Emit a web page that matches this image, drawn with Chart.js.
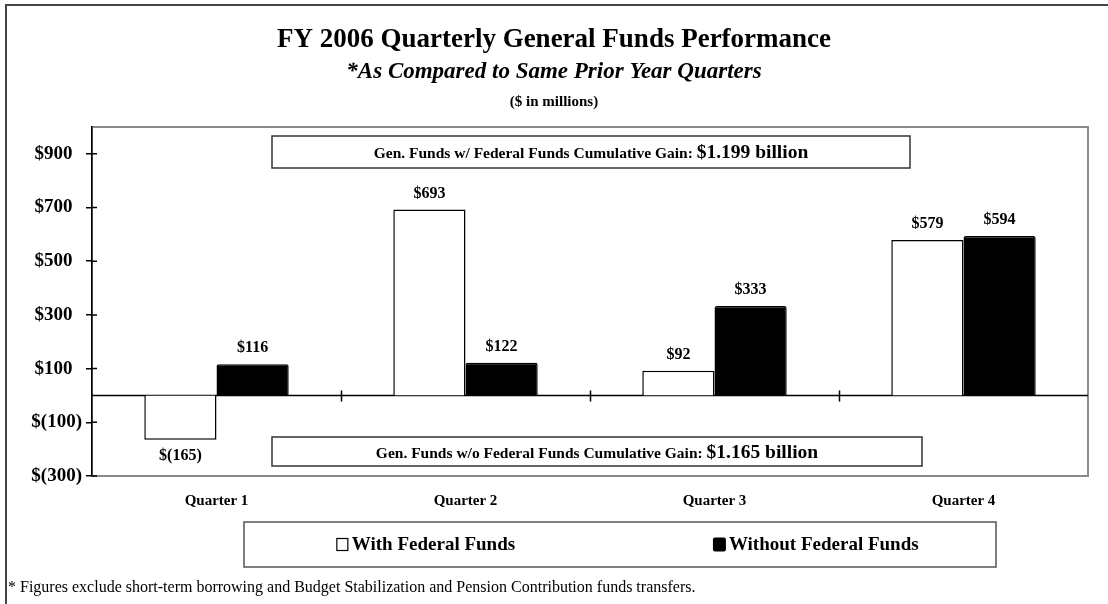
<!DOCTYPE html>
<html lang="en">
<head>
<meta charset="UTF-8">
<title>FY 2006 Quarterly General Funds Performance</title>
<script src="https://cdn.jsdelivr.net/npm/chart.js"></script>
<style>
html,body{margin:0;padding:0;background:#fff;}
.wrap{width:1108px;height:604px;position:relative;}
</style>
</head>
<body>
<div class="wrap"><canvas id="chart" width="1108" height="604"></canvas></div>

<script>
/* ---------- data ---------- */
const quarters=["Quarter 1","Quarter 2","Quarter 3","Quarter 4"];
const withFederal   =[-165,693,92,579];
const withoutFederal=[116,122,333,594];
const yTicks=[-300,-100,100,300,500,700,900];

const seriesNames=["With Federal Funds","Without Federal Funds"];

const SERIF="'Liberation Serif','Times New Roman',serif";

const titleLines=[
    {text:"FY 2006 Quarterly General Funds Performance",font:"bold 27px "+SERIF,y:47},
    {text:"*As Compared to Same Prior Year Quarters",font:"italic bold 23px "+SERIF,y:78},
    {text:"($ in millions)",font:"bold 15px "+SERIF,y:106}
];
const gainNotes=[
    {label:"Gen. Funds w/ Federal Funds Cumulative Gain: ",value:"$1.199 billion",box:[272,136,910,168]},
    {label:"Gen. Funds w/o Federal Funds Cumulative Gain: ",value:"$1.165 billion",box:[272,437,922,466]}
];
const footnote="* Figures exclude short-term borrowing and Budget Stabilization and Pension Contribution funds transfers.";

// accounting style: negatives in brackets
function money(v){
    return v<0 ? "$("+(-v)+")" : "$"+v;
}

/* ---------- drawing helpers ---------- */
const decor={
    id:"decor",
    beforeDraw(chart){
        const c=chart.ctx, a=chart.chartArea;
        c.save();
        c.fillStyle="#fff";
        c.fillRect(0,0,chart.width,chart.height);
        // outer frame (top + left only visible)
        c.strokeStyle="#444";c.lineWidth=2;
        c.beginPath();c.moveTo(6,605);c.lineTo(6,5);c.lineTo(1108,5);c.stroke();
        // titles
        c.fillStyle="#000";c.textAlign="center";c.textBaseline="alphabetic";
        titleLines.forEach(t=>{c.font=t.font;c.fillText(t.text,554,t.y);});
        // plot frame
        c.strokeStyle="#8a8a8a";c.lineWidth=2;
        c.strokeRect(a.left,a.top,a.right-a.left,a.bottom-a.top);
        c.restore();
    },
    beforeDatasetsDraw(chart){
        const c=chart.ctx, a=chart.chartArea, y=chart.scales.y;
        const y0=y.getPixelForValue(0);
        c.save();
        c.strokeStyle="#000";c.lineWidth=1.5;
        c.beginPath();c.moveTo(a.left,y0);c.lineTo(a.right,y0);
        // category separators crossing the zero line
        const step=(a.right-a.left)/quarters.length;
        for(let i=1;i<quarters.length;i++){
            const px=Math.round(a.left+step*i)+.5;
            c.moveTo(px,y0-5);c.lineTo(px,y0+6);
        }
        // inner half of the y ticks
        yTicks.forEach(v=>{const py=y.getPixelForValue(v);c.moveTo(a.left,py);c.lineTo(a.left+5,py);});
        c.stroke();
        c.restore();
    },
    afterDatasetsDraw(chart){
        const c=chart.ctx;
        c.save();
        c.fillStyle="#000";c.textAlign="center";c.textBaseline="middle";
        c.font="bold 16px "+SERIF;
        chart.data.datasets.forEach((ds,di)=>{
            chart.getDatasetMeta(di).data.forEach((bar,i)=>{
                const v=ds.data[i];
                const py=v<0 ? bar.y+16 : bar.y-16;
                c.fillText(money(v),bar.x,py);
            });
        });
        // cumulative gain boxes
        gainNotes.forEach(n=>{
            const [x1,y1,x2,y2]=n.box;
            c.fillStyle="#fff";c.fillRect(x1,y1,x2-x1,y2-y1);
            c.strokeStyle="#333";c.lineWidth=1.5;c.strokeRect(x1,y1,x2-x1,y2-y1);
            c.font="bold 15.5px "+SERIF;
            const w1=c.measureText(n.label).width;
            c.font="bold 19.5px "+SERIF;
            const w2=c.measureText(n.value).width;
            const sx=(x1+x2)/2-(w1+w2)/2, by=(y1+y2)/2+6;
            c.fillStyle="#000";c.textAlign="left";c.textBaseline="alphabetic";
            c.font="bold 15.5px "+SERIF;c.fillText(n.label,sx,by);
            c.font="bold 19.5px "+SERIF;c.fillText(n.value,sx+w1,by);
        });
        c.restore();
    },
    afterDraw(chart){
        const c=chart.ctx;
        c.save();
        // legend box
        const lx1=244,ly1=522,lx2=996,ly2=567,cy=(ly1+ly2)/2;
        const centres=[lx1+(lx2-lx1)*0.242,lx1+(lx2-lx1)*0.761];
        c.strokeStyle="#555";c.lineWidth=1.5;c.strokeRect(lx1,ly1,lx2-lx1,ly2-ly1);
        c.font="bold 19px "+SERIF;c.textBaseline="middle";c.textAlign="left";
        chart.data.datasets.forEach((ds,i)=>{
            const tw=c.measureText(ds.label).width;
            const sx=centres[i]-(tw+15)/2;
            c.fillStyle=ds.backgroundColor;c.strokeStyle="#000";c.lineWidth=1.2;
            if(i===0){c.fillRect(sx,cy-6,11,12);c.strokeRect(sx,cy-6,11,12);}
            else{c.beginPath();c.roundRect(sx-1,cy-7,13,14,2);c.fill();}
            c.fillStyle="#000";c.fillText(ds.label,sx+15,cy+1);
        });
        // footnote
        c.font="16px "+SERIF;c.textBaseline="alphabetic";c.fillText(footnote,8,592);
        c.restore();
    }
};

/* ---------- chart ---------- */
new Chart(document.getElementById("chart"),{
    type:"bar",
    data:{
        labels:quarters,
        datasets:[
            {label:seriesNames[0],data:withFederal,backgroundColor:"#fff",borderColor:"#000",borderWidth:1.5},
            {label:seriesNames[1],data:withoutFederal,backgroundColor:"#000",borderColor:"#000",borderWidth:1.5,borderRadius:2}
        ]
    },
    options:{
        responsive:false,
        animation:false,
        events:[],
        categoryPercentage:0.58,
        barPercentage:1.0,
        layout:{padding:{left:0,top:127,right:20,bottom:0}},
        plugins:{legend:{display:false},title:{display:false},tooltip:{enabled:false}},
        scales:{
            x:{
                grid:{display:false,drawTicks:false},
                border:{display:false},
                ticks:{color:"#000",font:{family:SERIF,size:15,weight:"bold"},padding:16,maxRotation:0},
                afterFit:s=>{s.height=128;}
            },
            y:{
                min:-300,max:1000,
                afterBuildTicks:s=>{s.ticks=yTicks.map(v=>({value:v}));},
                grid:{drawOnChartArea:false,tickLength:6,color:"#000",lineWidth:1.5},
                border:{color:"#000",width:1.5},
                // positives keep room for the ")" so the digits line up
                ticks:{color:"#000",font:{family:SERIF,size:19,weight:"bold"},padding:4,
                       callback:v=>v<0 ? money(v) : money(v)+"\u2002"},
                afterFit:s=>{s.width=92;}
            }
        }
    },
    plugins:[decor]
});
</script>
</body>
</html>
